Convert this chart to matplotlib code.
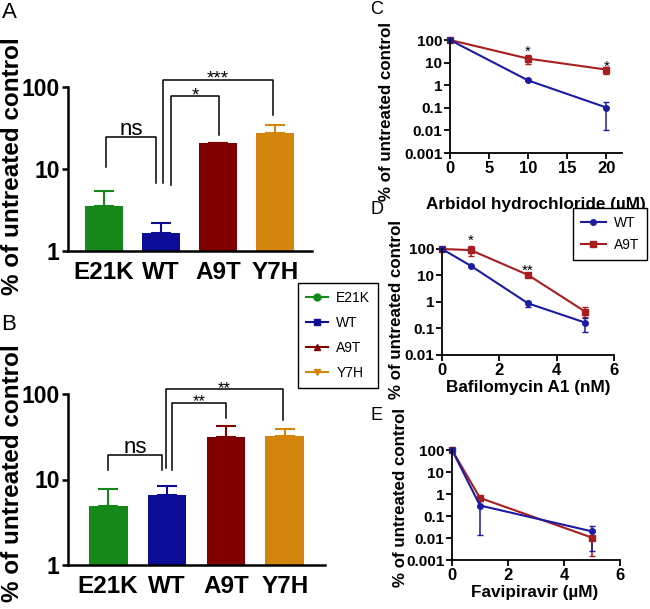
import numpy as np
import matplotlib
matplotlib.use('Agg')
from matplotlib import pyplot as plt
from matplotlib.lines import Line2D

plt.rcParams['font.family'] = ['Liberation Sans', 'DejaVu Sans']

# Data
groups = ['E21K', 'WT', 'A9T', 'Y7H']
bar_colors = ['#16881a', '#0c0c96', '#800000', '#d4850c']
markers = ['o', 's', '^', 'v']

a_vals = [3.5, 1.68, 20.6, 27.3]
a_err = [5.4, 2.2, 20.6, 34.3]
b_vals = [4.96, 6.55, 31.3, 31.9]
b_err = [7.8, 8.4, 42.6, 38.9]

c_x = [0, 10, 20]
c_wt = [100, 1.62, 0.103]
c_wt_lo = [100, 1.62, 0.0103]
c_wt_hi = [100, 1.62, 0.19]
c_a9 = [100, 15, 4.9]
c_a9_lo = [100, 8.5, 3.2]
c_a9_hi = [100, 21, 6.6]

d_x = [0, 1, 3, 5]
d_wt = [100, 23.4, 0.89, 0.166]
d_wt_lo = [100, 23.4, 0.66, 0.076]
d_wt_hi = [100, 23.4, 1.08, 0.25]
d_a9 = [100, 91, 10.5, 0.43]
d_a9_lo = [100, 56, 8.5, 0.28]
d_a9_hi = [100, 130, 12.9, 0.67]

e_x = [0, 1, 5]
e_wt = [100, 0.30, 0.020]
e_wt_lo = [100, 0.0138, 0.0026]
e_wt_hi = [100, 0.50, 0.036]
e_a9 = [100, 0.66, 0.0104]
e_a9_lo = [100, 0.66, 0.0016]
e_a9_hi = [100, 0.66, 0.012]

log_ticks = [0.001, 0.01, 0.1, 1, 10, 100]
log_labels = ['0.001', '0.01', '0.1', '1', '10', '100']

BLUE = '#1c1ca2'
RED = '#a81e1e'
W, H = 650, 609


def box(l, t, r, b):
    return [l / W, 1 - b / H, (r - l) / W, (b - t) / H]


fig = plt.figure(figsize=(6.5, 6.09), dpi=100)


def bar_panel(ax, vals, err, xlim, brackets, lab_y, lab_x_frac):
    x = np.arange(len(groups))
    ax.bar(x, vals, width=0.66, color=bar_colors)
    for i in range(len(groups)):
        ax.errorbar(x[i], vals[i], yerr=[[0], [err[i] - vals[i]]], fmt='none',
                    ecolor=bar_colors[i], elinewidth=1.5, capsize=7, capthick=1.5)
    ax.set_yscale('log')
    ax.set_ylim(1, 100)
    ax.set_xlim(*xlim)
    ax.set_yticks([1, 10, 100], ['1', '10', '100'])
    ax.minorticks_off()
    ax.set_xticks(x, groups)
    for s in ['top', 'right']:
        ax.spines[s].set_visible(False)
    for s in ['left', 'bottom']:
        ax.spines[s].set_linewidth(1.8)
    ax.tick_params(axis='y', direction='out', length=4.5, width=1.8, labelsize=16.5, pad=1.5)
    ax.tick_params(axis='x', length=0, labelsize=17.5, pad=7)
    for t in ax.get_xticklabels() + ax.get_yticklabels():
        t.set_fontweight('bold')
    ax.set_ylabel('% of untreated control', fontsize=17.5, fontweight='bold', va='center')
    ax.yaxis.set_label_coords(lab_x_frac, lab_y)
    for (x0, y0, x1, y1, top, txt, fs, gap) in brackets:
        ax.plot([x0, x0, x1, x1], [y0, top, top, y1], color='black', lw=1.1, clip_on=False)
        if txt == 'ns':
            off = gap
        else:
            off = gap - 0.58 * fs * 100 / 72
        ax.annotate(txt, ((x0 + x1) / 2, top), xytext=(0, off), textcoords='offset pixels',
                    ha='center', va='baseline', fontsize=fs, annotation_clip=False)


axA = fig.add_axes(box(68, 87, 312, 251))
bar_panel(axA, a_vals, a_err, (-0.632, 3.65),
          [(0.03, 10.7, 0.92, 6.7, 24.9, 'ns', 16, 2),
           (1.03, 6.7, 2.97, 45.8, 123, '***', 13.5, 7),
           (1.17, 6.4, 2.02, 26, 76.9, '*', 13.5, 7)], 0.518, (13 - 68) / 244)

axB = fig.add_axes(box(68, 394, 325, 565))
bar_panel(axB, b_vals, b_err, (-0.68, 3.68),
          [(0.0, 13, 0.92, 13, 19.5, 'ns', 16, 2),
           (0.98, 13.5, 2.97, 50, 114, '**', 12, 6),
           (1.08, 13, 2.0, 52, 78.5, '**', 12, 6.5)], 0.54, (13 - 68) / 257)

handles = [Line2D([0], [0], color=c, marker=m, markersize=5, lw=1.5) for c, m in zip(bar_colors, markers)]
fig.legend(handles, groups, loc='upper left', bbox_to_anchor=(298 / W, 1 - 283 / H),
           frameon=True, fancybox=False, edgecolor='black', fontsize=10, handlelength=1.6,
           handletextpad=0.6, borderaxespad=0, labelspacing=0.8, borderpad=0.55, framealpha=1)


def line_panel(ax, xs, wt, wt_lo, wt_hi, a9, a9_lo, a9_hi, xlim, ylim, xticks, xlabel, ylab_xy, xlab_xy):
    wt, wt_lo, wt_hi = map(np.array, (wt, wt_lo, wt_hi))
    a9, a9_lo, a9_hi = map(np.array, (a9, a9_lo, a9_hi))
    ax.errorbar(xs, a9, yerr=[a9 - a9_lo, a9_hi - a9], color=RED, marker='s', markersize=4,
                lw=1.5, capsize=2.2, elinewidth=1.1, label='A9T')
    ax.errorbar(xs, wt, yerr=[wt - wt_lo, wt_hi - wt], color=BLUE, marker='o', markersize=4,
                lw=1.5, capsize=2.2, elinewidth=1.1, label='WT')
    ax.set_yscale('log')
    ax.set_ylim(*ylim)
    ax.set_xlim(*xlim)
    ticks = [t for t in log_ticks if ylim[0] <= t <= ylim[1]]
    ax.set_yticks(ticks, [log_labels[log_ticks.index(t)] for t in ticks])
    ax.minorticks_off()
    ax.set_xticks(xticks, [str(t) for t in xticks])
    for s in ['top', 'right']:
        ax.spines[s].set_visible(False)
    for s in ['left', 'bottom']:
        ax.spines[s].set_linewidth(1.3)
    ax.tick_params(direction='out', length=4, width=1.3, labelsize=12, pad=1.5)
    ax.tick_params(axis='y', labelsize=11)
    for t in ax.get_xticklabels() + ax.get_yticklabels():
        t.set_fontweight('bold')
    ax.set_ylabel('% of untreated control', fontsize=12.2, fontweight='bold', va='center')
    ax.yaxis.set_label_coords(*ylab_xy)
    ax.set_xlabel(xlabel, fontsize=12.3, fontweight='bold', va='center')
    ax.xaxis.set_label_coords(*xlab_xy)
    for line in ax.get_lines():
        line.set_clip_on(False)


axC = fig.add_axes(box(450, 40, 622, 153))
line_panel(axC, c_x, c_wt, c_wt_lo, c_wt_hi, c_a9, c_a9_lo, c_a9_hi, (0, 22), (0.001, 100),
           [0, 5, 10, 15, 20], 'Arbidol hydrochloride (\u00b5M)', (-0.372, 0.372), (0.5, -0.46))
axC.text(10, 19.5, '*', ha='center', va='baseline', fontsize=11)
axC.text(20, 4.4, '*', ha='center', va='baseline', fontsize=11)

axD = fig.add_axes(box(442, 249, 614, 355))
line_panel(axD, d_x, d_wt, d_wt_lo, d_wt_hi, d_a9, d_a9_lo, d_a9_hi, (0, 6), (0.01, 100),
           [0, 2, 4, 6], 'Bafilomycin A1 (nM)', (-0.262, 0.434), (0.5, -0.311))
axD.text(1, 141, '*', ha='center', va='baseline', fontsize=11, clip_on=False)
axD.text(3, 10.5, '**', ha='center', va='baseline', fontsize=11)
dh = [Line2D([0], [0], color=BLUE, marker='o', markersize=4, lw=1.5),
      Line2D([0], [0], color=RED, marker='s', markersize=4, lw=1.5)]
fig.legend(dh, ['WT', 'A9T'], loc='upper left', bbox_to_anchor=(573 / W, 1 - 208 / H),
           frameon=True, fancybox=False, edgecolor='black', fontsize=10, handlelength=1.8,
           handletextpad=0.6, borderaxespad=0, labelspacing=0.6, borderpad=0.55, framealpha=1)

axE = fig.add_axes(box(452, 450, 620, 560))
line_panel(axE, e_x, e_wt, e_wt_lo, e_wt_hi, e_a9, e_a9_lo, e_a9_hi, (0, 6), (0.001, 100),
           [0, 2, 4, 6], 'Favipiravir (\u00b5M)', (-0.305, 0.573), (0.494, -0.30))

for lab, (px, py), fs in [('A', (9, 12), 16), ('B', (9, 325), 16), ('C', (377, 10), 13),
                          ('D', (377, 210), 13), ('E', (376, 416), 13)]:
    fig.text(px / W, 1 - py / H, lab, ha='center', va='center', fontsize=fs)

fig.savefig('out.png', dpi=100)
